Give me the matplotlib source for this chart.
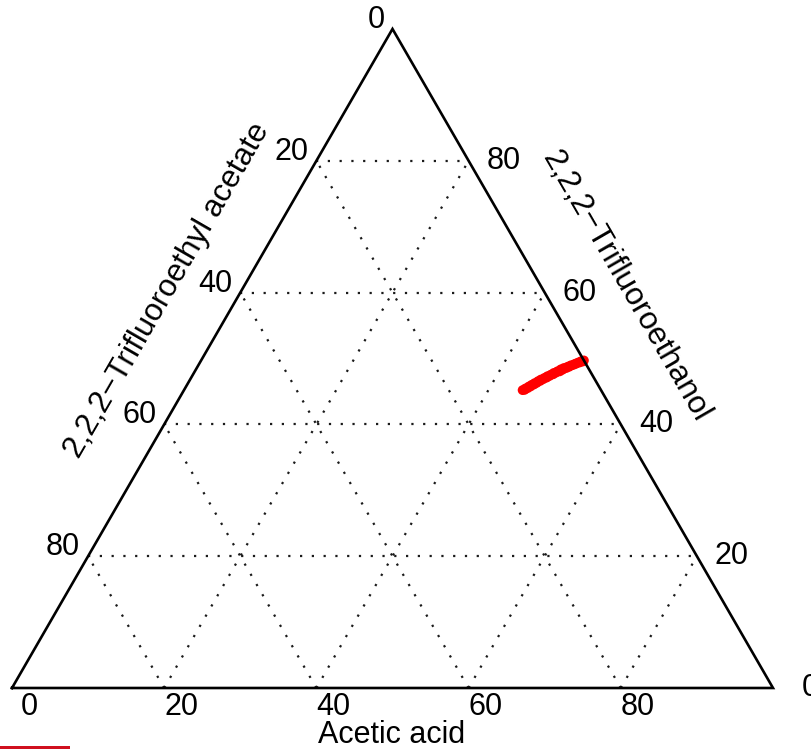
import numpy as np
import matplotlib
matplotlib.use("Agg")
import matplotlib.pyplot as plt
from matplotlib.lines import Line2D

plt.rcParams['font.family'] = ['Liberation Sans', 'DejaVu Sans']

# ---- data (percent) ----
acetate = [0.0, 0.2, 0.5, 0.7, 1.0, 1.3, 1.5, 1.8, 2.1, 2.4, 2.6, 2.9, 3.2, 3.5, 3.7,
           4.0, 4.3, 4.6, 4.9, 5.1, 5.4, 5.7, 6.0, 6.2, 6.5, 6.8, 7.1, 7.3, 7.6, 7.9,
           8.2, 8.4, 8.7, 9.0, 9.2, 9.5, 9.8, 10.0, 10.3]
tfe = [49.7, 49.55, 49.55, 49.4, 49.35, 49.2, 49.15, 49.0, 48.95, 48.75, 48.75, 48.55, 48.55,
       48.3, 48.35, 48.05, 48.05, 47.85, 47.8, 47.6, 47.55, 47.35, 47.3, 47.1, 47.05, 46.85,
       46.8, 46.6, 46.55, 46.3, 46.25, 46.05, 46.0, 45.75, 45.75, 45.5, 45.45, 45.25, 45.2]
acetic = [50.3, 50.25, 49.95, 49.9, 49.65, 49.5, 49.35, 49.2, 48.95, 48.85, 48.65, 48.55, 48.25,
          48.2, 47.95, 47.95, 47.65, 47.55, 47.3, 47.3, 47.05, 46.95, 46.7, 46.7, 46.45, 46.35,
          46.1, 46.1, 45.85, 45.8, 45.55, 45.55, 45.3, 45.25, 45.05, 45.0, 44.75, 44.75, 44.5]

grid_vals = [20, 40, 60, 80]
tick_vals = [0, 20, 40, 60, 80]
tick_labels = ["0", "20", "40", "60", "80"]

title_bottom = "Acetic acid"
title_left = "2,2,2\u2212Trifluoroethyl acetate"
title_right = "2,2,2\u2212Trifluoroethanol"

H = np.sqrt(3) / 2


def tern(a, b, c):
    """a = acetic acid (bottom, ->right), b = TFE (top), c = acetate (bottom-left)."""
    a = np.asarray(a, float); b = np.asarray(b, float)
    return (a + b / 2.0) / 100.0, b * H / 100.0


W, Hpx = 812, 751
fig = plt.figure(figsize=(W / 100, Hpx / 100), dpi=100)
ax = fig.add_axes([0, 0, 1, 1])
scale = 761.0
x0px, y0px = 12.0, 688.0  # bottom-left vertex pixel (from top)
ax.set_xlim(-x0px / scale, (W - x0px) / scale)
ax.set_ylim(-(Hpx - y0px) / scale, y0px / scale)
ax.axis('off')

PT = 0.72  # points per pixel at dpi 100

# grid lines
gkw = dict(color='#1a1a1a', lw=1.6, linestyle=(0, (1, 4.3)), zorder=1)
for v in grid_vals:
    x, y = tern([0, 100 - v], [v, v], [100 - v, 0]); ax.plot(x, y, **gkw)
    x, y = tern([v, v], [0, 100 - v], [100 - v, 0]); ax.plot(x, y, **gkw)
    x, y = tern([100 - v, 0], [0, 100 - v], [v, v]); ax.plot(x, y, **gkw)

# data
px, py = tern(acetic, tfe, acetate)
ax.scatter(px, py, s=50, color='#ff0000', edgecolors='none', zorder=3)

# triangle
tx, ty = tern([0, 100, 0, 0], [0, 0, 100, 0], [100, 0, 0, 100])
ax.plot(tx, ty, color='black', lw=1.9, zorder=4, solid_joinstyle='miter')

fs = 22
# bottom ticks (acetic acid)
for v, lab in zip(tick_vals, tick_labels):
    x, y = tern(v, 0, 100 - v)
    ax.annotate(lab, (x, y), xytext=(17 * PT, -19 * PT), textcoords='offset points',
                ha='center', va='center', fontsize=fs)
# right ticks (TFE)
right_dx = [29, 18, 18, 18, 18]
for v, lab, dx in zip(tick_vals, tick_labels, right_dx):
    x, y = tern(100 - v, v, 0)
    ax.annotate(lab, (x, y), xytext=(dx * PT, 0), textcoords='offset points',
                ha='left', va='center', fontsize=fs)
# left ticks (acetate)
for v, lab in zip(tick_vals, tick_labels):
    x, y = tern(0, 100 - v, v)
    ax.annotate(lab, (x, y), xytext=(-8 * PT, 9 * PT), textcoords='offset points',
                ha='right', va='center', fontsize=fs)


def pix(xp, yp):
    return (xp - x0px) / scale, (y0px - yp) / scale


ax.text(*pix(392, 735), title_bottom, ha='center', va='center', fontsize=fs)
ax.text(*pix(167, 290), title_left, ha='center', va='center', fontsize=22.6,
        rotation=60, rotation_mode='anchor')
ax.text(*pix(626, 286), title_right, ha='center', va='center', fontsize=22.8,
        rotation=-60, rotation_mode='anchor')

# red fragment at bottom-left edge
fig.add_artist(Line2D([0, 68 / W], [1 - 746.5 / Hpx] * 2, color='#d0101f', lw=3 * PT,
                      transform=fig.transFigure))

fig.savefig('out.png', dpi=100)
